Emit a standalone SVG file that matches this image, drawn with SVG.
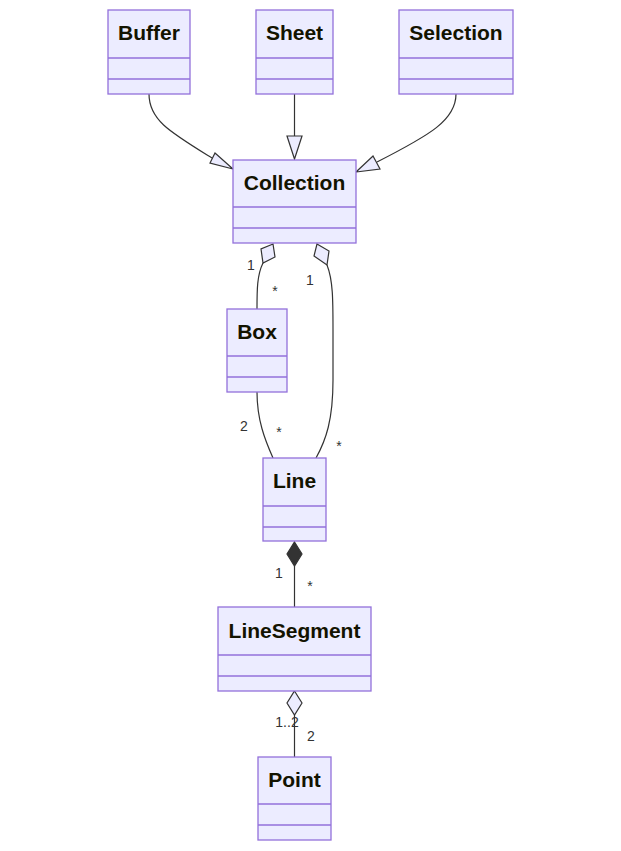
<svg xmlns="http://www.w3.org/2000/svg" width="621" height="851" viewBox="0 0 621 851">
<style>
.box{fill:#ECECFF;stroke:#9370DB;stroke-width:1.3}
.div{stroke:#9370DB;stroke-width:1.3}
.title{font-family:"Liberation Sans",Arial,sans-serif;font-weight:bold;font-size:21px;fill:#131300;text-anchor:middle}
.edge{fill:none;stroke:#333333;stroke-width:1.2}
.hollow{fill:#ECECFF;stroke:#333333;stroke-width:1.2}
.solid{fill:#333333;stroke:#333333;stroke-width:1.2}
.lbl{font-family:"Liberation Sans",Arial,sans-serif;font-size:14px;fill:#333333;text-anchor:middle}
</style>
<rect width="621" height="851" fill="#ffffff"/>
<g id="connectors">
  <path class="edge" d="M149,94 C149,120 170,132 212,158"/>
  <polygon class="hollow" points="233,169 210,163 215,153"/>
  <path class="edge" d="M294.5,94 L294.5,136"/>
  <polygon class="hollow" points="294.5,159 287,136 302,136"/>
  <path class="edge" d="M456,94 C456,120 430,135 377,162"/>
  <polygon class="hollow" points="356,172 373,156 380,169"/>
  <path class="edge" d="M263,263 C257,275 257,290 257,309"/>
  <polygon class="hollow" points="273,244 275,257 263,263 261,249"/>
  <path class="edge" d="M327,265 C333,280 333,300 333,330 L333,380 C333,420 326,440 316,458"/>
  <polygon class="hollow" points="317,244 329,251 327,265 314,256"/>
  <path class="edge" d="M257,392 C257,420 265,440 273,458"/>
  <path class="edge" d="M294.5,566 L294.5,607"/>
  <polygon class="solid" points="294.5,542 302,554 294.5,566 287,554"/>
  <path class="edge" d="M294.5,715 L294.5,757"/>
  <polygon class="hollow" points="294.5,691 302,703 294.5,715 287,703"/>
  <text class="lbl" x="251" y="270">1</text>
  <text class="lbl" x="275" y="296">*</text>
  <text class="lbl" x="310" y="285">1</text>
  <text class="lbl" x="244" y="431">2</text>
  <text class="lbl" x="279" y="437">*</text>
  <text class="lbl" x="339" y="451">*</text>
  <text class="lbl" x="279" y="578">1</text>
  <text class="lbl" x="310" y="591">*</text>
  <text class="lbl" x="287" y="727">1..2</text>
  <text class="lbl" x="311" y="741">2</text>
</g>
<g id="Buffer">
  <rect class="box" x="108" y="10" width="82" height="84"/>
  <line class="div" x1="108" y1="58" x2="190" y2="58"/>
  <line class="div" x1="108" y1="79" x2="190" y2="79"/>
  <text class="title" x="149" y="40">Buffer</text>
</g>
<g id="Sheet">
  <rect class="box" x="256" y="10" width="77" height="84"/>
  <line class="div" x1="256" y1="58" x2="333" y2="58"/>
  <line class="div" x1="256" y1="79" x2="333" y2="79"/>
  <text class="title" x="294.5" y="40">Sheet</text>
</g>
<g id="Selection">
  <rect class="box" x="399" y="10" width="114" height="84"/>
  <line class="div" x1="399" y1="58" x2="513" y2="58"/>
  <line class="div" x1="399" y1="79" x2="513" y2="79"/>
  <text class="title" x="456" y="40">Selection</text>
</g>
<g id="Collection">
  <rect class="box" x="233" y="160" width="123" height="83"/>
  <line class="div" x1="233" y1="207" x2="356" y2="207"/>
  <line class="div" x1="233" y1="228" x2="356" y2="228"/>
  <text class="title" x="294.5" y="190">Collection</text>
</g>
<g id="Box">
  <rect class="box" x="227" y="309" width="60" height="83"/>
  <line class="div" x1="227" y1="356" x2="287" y2="356"/>
  <line class="div" x1="227" y1="377" x2="287" y2="377"/>
  <text class="title" x="257" y="339">Box</text>
</g>
<g id="Line">
  <rect class="box" x="263" y="458" width="63" height="83"/>
  <line class="div" x1="263" y1="506" x2="326" y2="506"/>
  <line class="div" x1="263" y1="527" x2="326" y2="527"/>
  <text class="title" x="294.5" y="488">Line</text>
</g>
<g id="LineSegment">
  <rect class="box" x="218" y="607" width="153" height="84"/>
  <line class="div" x1="218" y1="655" x2="371" y2="655"/>
  <line class="div" x1="218" y1="676" x2="371" y2="676"/>
  <text class="title" x="294.5" y="638">LineSegment</text>
</g>
<g id="Point">
  <rect class="box" x="258" y="757" width="73" height="83"/>
  <line class="div" x1="258" y1="804" x2="331" y2="804"/>
  <line class="div" x1="258" y1="825" x2="331" y2="825"/>
  <text class="title" x="294.5" y="787">Point</text>
</g>
</svg>
